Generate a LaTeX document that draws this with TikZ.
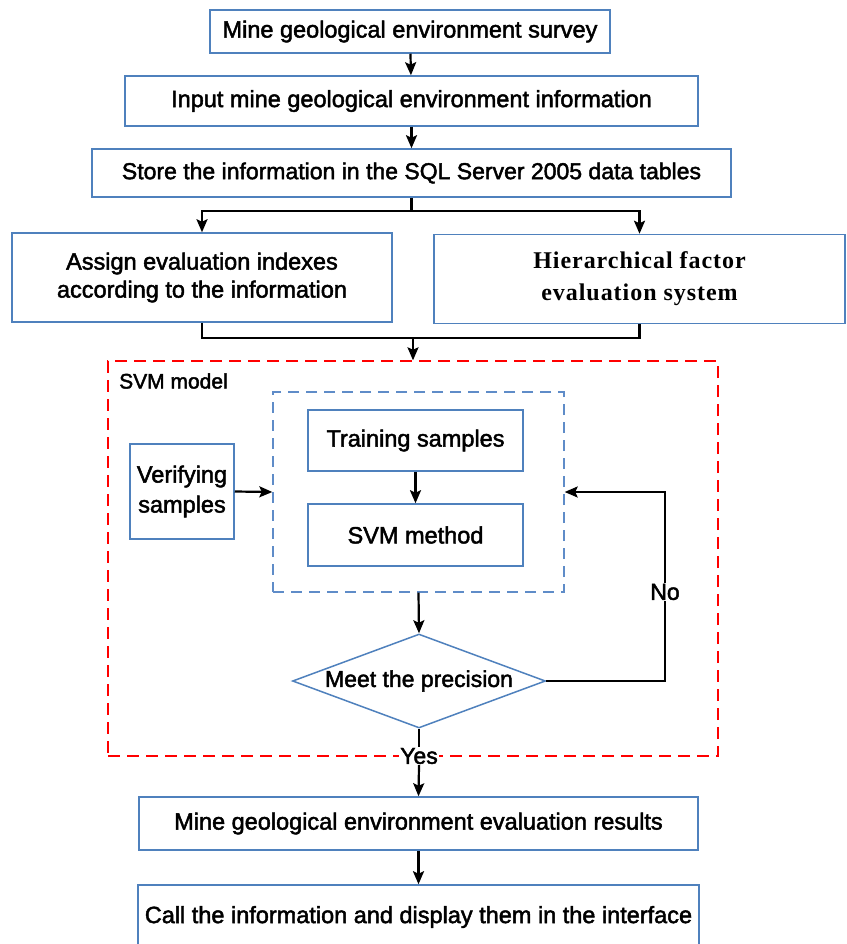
\documentclass[tikz,border=0pt]{standalone}
\usepackage{fontspec}
\setmainfont{Liberation Sans}[FakeBold=2]
\newfontfamily\timesf{Liberation Serif}[LetterSpace=4]
\usetikzlibrary{shapes.geometric,arrows.meta}
\definecolor{boxblue}{RGB}{79,129,189}
\definecolor{dashblue}{RGB}{95,140,200}
\begin{document}
\begin{tikzpicture}[x=1pt,y=-1pt,
  box/.style={draw=boxblue,line width=1.5pt,rectangle,inner sep=0pt,align=center,font=\fontsize{23.5}{28}\selectfont},
  lbl/.style={inner sep=1pt,font=\fontsize{23}{26}\selectfont},
  conn/.style={line width=2.2pt,black},
  arr/.style={conn,-{Stealth[length=13pt,width=11pt,inset=2.5pt]}},
  reddash/.style={draw=red,line width=1.4pt,dash pattern=on 12pt off 7pt,rectangle,inner sep=0pt},
  bluedash/.style={draw=dashblue,line width=1.4pt,dash pattern=on 11pt off 7pt,rectangle,inner sep=0pt},
]
\clip (0,0) rectangle (846,944);
\fill[white] (0,0) rectangle (846,944);

% main boxes
\node[box,minimum width=400pt,minimum height=43pt] (b1) at (410,31.5) {Mine geological environment survey};
\node[box,minimum width=573pt,minimum height=50pt] (b2) at (411.5,101) {Input mine geological environment information};
\node[box,minimum width=639pt,minimum height=48pt,font=\fontsize{23}{28}\selectfont] (b3) at (411.5,173) {Store the information in the SQL Server 2005 data tables};
\node[box,minimum width=380pt,minimum height=89pt] (b4l) at (202,277.5) {Assign evaluation indexes\\according to the information};
\node[box,minimum width=411pt,minimum height=89pt,font=\timesf\bfseries\fontsize{24}{32}\selectfont] (b4r) at (639.5,279) {Hierarchical factor\\evaluation system};

% SVM model region
\node[reddash,minimum width=610pt,minimum height=395pt] (svm) at (413,558.5) {};
\node[anchor=west,inner sep=0pt,font=\fontsize{21}{24}\selectfont] (svmlbl) at (119,381) {SVM model};
\node[bluedash,minimum width=291pt,minimum height=200pt] (grp) at (418.5,492) {};
\node[box,minimum width=215pt,minimum height=61pt] (train) at (415.5,440.5) {Training samples};
\node[box,minimum width=215pt,minimum height=62pt] (meth) at (415.5,535) {SVM method};
\node[box,minimum width=104pt,minimum height=95pt,font=\fontsize{23.5}{30}\selectfont] (verif) at (182,491.5) {Verifying\\samples};
\node[diamond,draw=boxblue,line width=1.5pt,inner sep=0pt,aspect=2.69,minimum width=253pt,minimum height=94pt,font=\fontsize{23}{26}\selectfont] (dec) at (419,681) {Meet the precision};

% results
\node[box,minimum width=559pt,minimum height=53pt] (res) at (418.5,823.5) {Mine geological environment evaluation results};
\node[box,minimum width=561pt,minimum height=64pt] (show) at (418.5,917) {Call the information and display them in the interface};

% labels on connectors
\node[lbl,fill=white] (no) at (665,592) {No};
\node[lbl,fill=white] (yes) at (419,756) {Yes};

% connectors
\draw[arr] (b1) -- (b2);
\draw[arr] (b2) -- (b3);
\coordinate (j1) at (411.5,211);
\draw[conn] (b3.south) -- (j1);
\draw[arr] (j1) -| (b4l.north);
\draw[arr] (j1) -| (b4r.north);
\coordinate (j2) at (413,338);
\draw[conn] (b4l.south) |- (j2) -| (b4r.south);
\draw[arr] (j2) -- (j2 |- svm.north);
\draw[arr] (train) -- (meth);
\draw[arr] (verif.east) -- (grp.west);
\draw[arr] (grp.south) -- (dec.north);
\draw[conn] (dec.east) -| (no.south);
\draw[arr] (no.north) |- (grp.east);
\draw[conn] (dec.south) -- (yes.north);
\draw[arr] (yes.south) -- (res.north);
\draw[arr] (res) -- (show);
\end{tikzpicture}
\end{document}
